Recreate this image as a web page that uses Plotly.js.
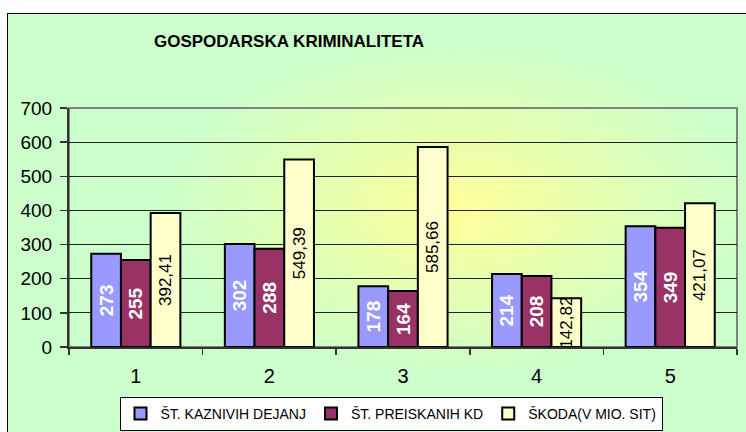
<!DOCTYPE html>
<html>
<head>
<meta charset="utf-8">
<script src="https://cdn.plot.ly/plotly-3.0.1.min.js"></script>
<style>
  html, body { margin: 0; padding: 0; background: #ffffff; }
  #wrap { position: relative; width: 746px; height: 432px; overflow: hidden; background: #ffffff; }
  #bg {
    position: absolute; left: 7px; top: 13px; width: 780px; height: 440px;
    border: 1px solid #000000; box-sizing: border-box;
    background: radial-gradient(ellipse 300px 170px at 450px 195px, #FFFF99 0%, #E6FFB0 45%, #CCFFCC 100%);
  }
  #chart { position: absolute; left: 0; top: 0; width: 746px; height: 432px; }
</style>
</head>
<body>
<div id="wrap">
  <div id="bg"></div>
  <div id="chart"></div>
</div>
<script>
const categories = ["1", "2", "3", "4", "5"];
const seriesNames = ["ŠT. KAZNIVIH DEJANJ", "ŠT. PREISKANIH KD", "ŠKODA(V MIO. SIT)"];
const kaznivaDejanja = [273, 302, 178, 214, 354];
const preiskanihKD = [255, 288, 164, 208, 349];
const skoda = [392.41, 549.39, 585.66, 142.82, 421.07];
const yTicks = [0, 100, 200, 300, 400, 500, 600, 700];
const chartTitle = "GOSPODARSKA KRIMINALITETA";

const colors = ["#9999FF", "#993366", "#FFFFCC"];
const FONT = "Liberation Sans, Arial, sans-serif";

function barTrace(name, values, color, textColor, bold, tmpl, size) {
  return {
    type: "bar",
    name: name,
    x: categories,
    y: values,
    marker: { color: color, line: { color: "#000000", width: 2 } },
    texttemplate: tmpl,
    textposition: "inside",
    insidetextanchor: "middle",
    textangle: -90,
    constraintext: "none",
    insidetextfont: { family: FONT, size: size, color: textColor, weight: bold ? "bold" : "normal" },
    hoverinfo: "skip"
  };
}

const data = [
  barTrace(seriesNames[0], kaznivaDejanja, colors[0], "#FFFFFF", true, "%{y}", 19),
  barTrace(seriesNames[1], preiskanihKD, colors[1], "#FFFFFF", true, "%{y}", 19),
  barTrace(seriesNames[2], skoda, colors[2], "#000000", false, "%{y:.2f}", 17)
];

const layout = {
  width: 746,
  height: 432,
  paper_bgcolor: "rgba(0,0,0,0)",
  plot_bgcolor: "rgba(0,0,0,0)",
  separators: ",.",
  margin: { l: 69, r: 9, t: 108, b: 85, pad: 0 },
  barmode: "group",
  bargap: 0.333,
  bargroupgap: 0,
  font: { family: FONT, color: "#000000" },
  title: {
    text: chartTitle,
    x: 289 / 746, xref: "container", xanchor: "center",
    y: 1 - 41 / 432, yref: "container", yanchor: "middle",
    font: { family: FONT, size: 17, weight: "bold", color: "#000000" }
  },
  xaxis: {
    type: "category",
    tickson: "boundaries",
    ticks: "outside",
    ticklen: 6,
    tickwidth: 1.5,
    tickcolor: "#333333",
    showline: true,
    linecolor: "#333333",
    linewidth: 2,
    showgrid: false,
    tickfont: { family: FONT, size: 20, color: "#000000" },
    ticklabelstandoff: 10,
    fixedrange: true
  },
  yaxis: {
    range: [0, 700],
    tickvals: yTicks,
    ticks: "outside",
    ticklen: 7,
    tickwidth: 1.5,
    tickcolor: "#333333",
    showline: true,
    linecolor: "#333333",
    linewidth: 2,
    showgrid: true,
    gridcolor: "#222222",
    gridwidth: 1,
    zeroline: false,
    tickfont: { family: FONT, size: 19, color: "#000000" },
    ticklabelstandoff: 4,
    fixedrange: true
  },
  shapes: [{
    type: "rect", xref: "paper", yref: "paper", x0: 0, x1: 1, y0: 0, y1: 1,
    line: { color: "#808080", width: 2 }, fillcolor: "rgba(0,0,0,0)", layer: "between"
  }],
  showlegend: true,
  legend: {
    orientation: "h",
    xref: "container", yref: "container",
    x: 391 / 746, xanchor: "center",
    y: 1 - 397 / 432, yanchor: "top",
    bgcolor: "#FFFFFF",
    bordercolor: "#000000",
    borderwidth: 1,
    itemwidth: 30,
    font: { family: FONT, size: 14, color: "#000000" },
    traceorder: "normal"
  }
};

Plotly.newPlot("chart", data, layout, { displayModeBar: false, staticPlot: true });
</script>
</body>
</html>
